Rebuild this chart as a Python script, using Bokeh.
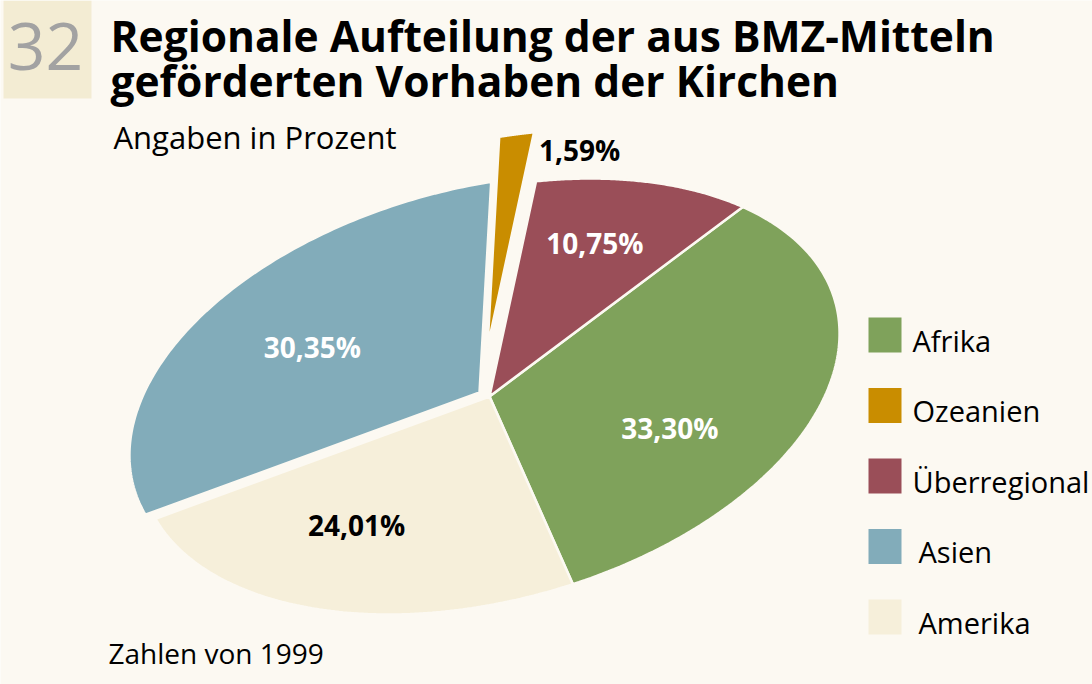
import numpy as np
from bokeh.plotting import figure
from bokeh.models import Range1d
from bokeh.core.properties import value
from bokeh.embed import file_html
from bokeh.resources import INLINE

# ---------------- data ----------------
regions = ["Afrika", "Ozeanien", "Überregional", "Asien", "Amerika"]
shares = [33.30, 1.59, 10.75, 30.35, 24.01]
share_labels = ["33,30%", "1,59%", "10,75%", "30,35%", "24,01%"]
colors = ["#7FA25B", "#C98D00", "#9A4E58", "#82ACBA", "#F6EFDA"]
label_colors = ["white", "black", "white", "white", "black"]
pie_order = ["Afrika", "Überregional", "Ozeanien", "Asien", "Amerika"]

title_lines = ["Regionale Aufteilung der aus BMZ-Mitteln",
               "geförderten Vorhaben der Kirchen"]
number = "32"
subtitle = "Angaben in Prozent"
footnote = "Zahlen von 1999"

# ---------------- layout / style ----------------
BG = "#FCF9F2"
BOX = "#F3ECD3"
FONT = value("Open Sans")
W, H = 1092, 684

cx, cy = 489, 396
A, B = 358.5, 203.8
TH = np.radians(15.2)
T0 = -85.0
explode = {"Ozeanien": (-2, -49), "Asien": (-10, -4)}
label_place = {"Afrika": (0.60, -14.5), "Überregional": (0.71, 1.9),
               "Asien": (0.60, 0.0), "Amerika": (0.63, -7.6)}


def ell(t_deg, r=1.0):
    t = np.radians(t_deg)
    x = A * np.cos(t) * np.cos(TH) - B * np.sin(t) * np.sin(TH)
    y = A * np.cos(t) * np.sin(TH) + B * np.sin(t) * np.cos(TH)
    return cx + r * x, cy - r * y


p = figure(width=W, height=H, x_range=Range1d(0, W), y_range=Range1d(H, 0),
           output_backend="svg", toolbar_location=None, min_border=0,
           x_axis_type=None, y_axis_type=None,
           background_fill_color=BG, border_fill_color=BG,
           outline_line_color=None)
p.grid.visible = False

# number box
p.quad(left=[3], right=[91], top=[0], bottom=[98],
       fill_color=BOX, line_color=None)
p.text(x=[45], y=[45.5], text=[number], text_font=FONT,
       text_font_size="66px", text_color="#A2A2A2", text_baseline="middle",
       text_align="center")

# titles
p.text(x=[110, 110], y=[34.5, 79.5], text=title_lines,
       text_font=FONT, text_font_size="42.5px", text_font_style="bold",
       text_color="black", text_baseline="middle")
p.text(x=[113], y=[136], text=[subtitle], text_font=FONT,
       text_font_size="31px", text_color="black", text_baseline="middle")
p.text(x=[108], y=[652.5], text=[footnote], text_font=FONT,
       text_font_size="28px", text_color="black", text_baseline="middle")

# pie
xs_all, ys_all, fills = [], [], []
lab_x, lab_y, lab_t, lab_c = [], [], [], []
start = T0
for name in pie_order:
    i = regions.index(name)
    span = shares[i] / 100.0 * 360.0
    ts = np.linspace(start, start + span, 120)
    ex, ey = ell(ts)
    dx, dy = explode.get(name, (0, 0))
    xs_all.append(list(np.concatenate([[cx], ex]) + dx))
    ys_all.append(list(np.concatenate([[cy], ey]) + dy))
    fills.append(colors[i])
    if name in label_place:
        r, dt = label_place[name]
        lx, ly = ell(start + span / 2 + dt, r)
        lab_x.append(lx + dx); lab_y.append(ly + dy)
        lab_t.append(share_labels[i]); lab_c.append(label_colors[i])
    else:
        # outside label to the right of the wedge's outer corner
        ox, oy = ell(start)
        lab_out = (ox + dx + 5, oy + dy + 18, share_labels[i], label_colors[i])
    start += span

p.patches(xs_all, ys_all, fill_color=fills, line_color=BG, line_width=2.5)
p.text(x=lab_x, y=lab_y, text=lab_t, text_color=lab_c, text_font=FONT,
       text_font_size="28px", text_font_style="bold", text_align="center",
       text_baseline="middle")
p.text(x=[lab_out[0]], y=[lab_out[1]], text=[lab_out[2]], text_color=lab_out[3],
       text_font=FONT, text_font_size="28px", text_font_style="bold",
       text_align="left", text_baseline="middle")

# legend
leg_top0, leg_step, leg_w, leg_h = 317, 70.5, 33, 35
tops = [leg_top0 + k * leg_step for k in range(len(regions))]
p.quad(left=[868] * len(regions), right=[868 + leg_w] * len(regions),
       top=tops, bottom=[t + leg_h for t in tops], fill_color=colors,
       line_color=None)
text_x = [912 if k < 3 else 918 for k in range(len(regions))]
p.text(x=text_x, y=[t + 22.5 for t in tops], text=regions, text_font=FONT,
       text_font_size="29px", text_color="black", text_baseline="middle")

open("out.html", "w").write(file_html(p, INLINE))
